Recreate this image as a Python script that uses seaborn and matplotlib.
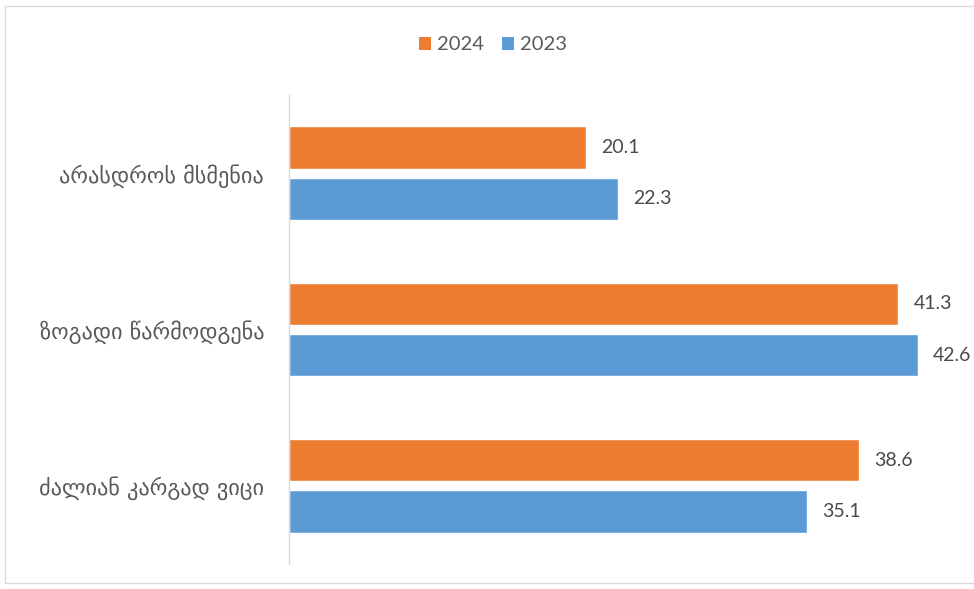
import matplotlib
matplotlib.use("Agg")
import matplotlib.pyplot as plt
import seaborn as sns
import pandas as pd
from matplotlib.patches import Rectangle, Patch

categories = ["არასდროს მსმენია", "ზოგადი წარმოდგენა", "ძალიან კარგად ვიცი"]
years = ["2024", "2023"]
values_2024 = [20.1, 41.3, 38.6]
values_2023 = [22.3, 42.6, 35.1]
colors = {"2024": "#ED7D31", "2023": "#5B9BD5"}

df = pd.DataFrame({
    "category": categories * 2,
    "year": ["2024"] * 3 + ["2023"] * 3,
    "value": values_2024 + values_2023,
})

sns.set_theme(style="white")
plt.rcParams["font.family"] = ["DejaVu Sans"]

fig = plt.figure(figsize=(9.74, 5.89), dpi=100)
ax = fig.add_axes([289 / 974, 1 - 564 / 589, (953 - 289) / 974, (564 - 95) / 589])

sns.barplot(data=df, y="category", x="value", hue="year", order=categories,
            hue_order=years, palette=colors, orient="h", width=0.66, gap=0.18,
            saturation=1, ax=ax, legend=False)

ax.set_xlim(0, 45)
ax.set_ylim(2.5, -0.5)
ax.set_xlabel("")
ax.set_ylabel("")
ax.set_xticks([])
for s in ["top", "right", "bottom"]:
    ax.spines[s].set_visible(False)
ax.spines["left"].set_color("#d9d9d9")
ax.spines["left"].set_linewidth(1.0)
ax.tick_params(axis="y", length=0, pad=18)
for lab in ax.get_yticklabels():
    lab.set_fontsize(16)
    lab.set_color("#595959")

for cont in ax.containers:
    ax.bar_label(cont, fmt="%.1f", padding=11, fontsize=14, color="#4a4a4a",
                 family="Lato")

handles = [Patch(facecolor=colors[y], edgecolor="none") for y in years]
fig.legend(handles, years, loc="center", bbox_to_anchor=(493 / 974, 1 - 45 / 589),
           ncol=2, frameon=False, handlelength=0.6, handleheight=0.6,
           handletextpad=0.3, columnspacing=0.9,
           prop={"family": "Lato", "size": 14.5}, labelcolor="#595959")

fig.patches.append(Rectangle((5 / 974, 6 / 589), 1.0, 1 - 12 / 589,
                             transform=fig.transFigure, fill=False,
                             edgecolor="#d9d9d9", linewidth=1.0))

fig.savefig("out.png", dpi=100, facecolor="white")
